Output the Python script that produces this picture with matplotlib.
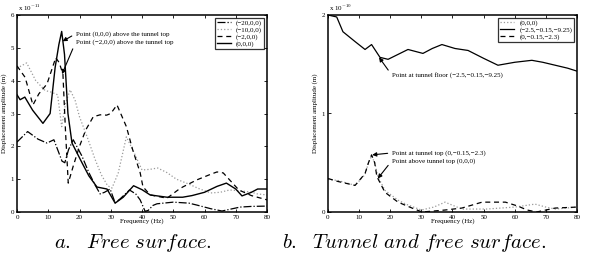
import numpy as np
import matplotlib
matplotlib.use("Agg")
import matplotlib.pyplot as plt

plt.rcParams['font.family'] = ['Liberation Serif', 'DejaVu Serif']
plt.rcParams['mathtext.fontset'] = 'cm'

# ---- a. free surface (amplitudes in units of 1e-11 m) ----
f_m20 = [0, 3.4, 6.7, 9.6, 11.8, 13, 14.4, 15.3, 16.5, 18, 20.8, 23, 25, 26.6, 28, 29.8, 31.4, 33,
         36, 38, 39.4, 41, 42, 43.5, 44.8, 50, 55, 57.6, 62, 65.6, 68, 71.4, 75, 80]
a_m20 = [2.13, 2.45, 2.22, 2.1, 2.2, 1.9, 1.55, 1.5, 1.9, 2.2, 1.7, 1.2, 0.82, 0.55, 0.6, 0.7, 0.28, 0.4,
         0.67, 0.55, 0.37, 0.02, 0.05, 0.2, 0.25, 0.3, 0.27, 0.21, 0.1, 0.03, 0.08, 0.15, 0.17, 0.18]

f_m10 = [0, 3.1, 6, 9, 11, 13, 14.3, 15.5, 17, 18.6, 20, 22.4, 25, 27, 29, 30.4, 32.4, 35, 37.5, 40,
         42.6, 45, 48, 51, 55, 58, 62, 65, 68, 71, 74.6, 77, 80]
a_m10 = [4.38, 4.54, 4.0, 3.7, 3.65, 3.57, 2.6, 3.3, 3.72, 3.4, 2.9, 2.3, 1.6, 1.13, 0.8, 0.73, 1.19, 2.29, 1.8, 1.28,
         1.3, 1.34, 1.2, 1.0, 0.85, 0.72, 0.58, 0.6, 0.67, 0.65, 0.61, 0.55, 0.52]

f_m2 = [0, 2.6, 5.1, 7, 9.6, 12.4, 13.5, 14.7, 15.5, 16.4, 18, 20, 22, 24.4, 26.6, 28.7, 30, 32, 35, 37,
        39.4, 40.3, 42.6, 48, 51.5, 53, 57.6, 62, 64, 66, 71, 75, 80]
a_m2 = [4.45, 4.1, 3.26, 3.6, 3.9, 4.7, 4.55, 4.2, 2.5, 0.88, 1.4, 2.0, 2.5, 2.9, 2.96, 2.95, 3.0, 3.26, 2.6, 1.9,
        1.2, 0.77, 0.52, 0.42, 0.67, 0.76, 0.98, 1.15, 1.22, 1.19, 0.67, 0.5, 0.37]

f_0 = [0, 1, 2.5, 5, 8.3, 10.6, 12.2, 13.4, 14.3, 15.2, 16.3, 17.6, 20.8, 23, 25.6, 28.8, 31.4, 34, 37.3, 40,
       42.6, 48, 53, 56, 60, 64, 67, 70, 72, 75, 77, 80]
a_0 = [3.57, 3.42, 3.5, 3.1, 2.7, 3.0, 4.4, 5.1, 5.5, 4.8, 3.0, 2.1, 1.5, 1.1, 0.76, 0.7, 0.27, 0.45, 0.8, 0.68,
       0.52, 0.45, 0.45, 0.5, 0.6, 0.78, 0.88, 0.7, 0.49, 0.6, 0.7, 0.7]

labels_a = ['(\u221220,0,0)', '(\u221210,0,0)', '(\u22122,0,0)', '(0,0,0)']

# ---- b. tunnel and free surface (amplitudes in units of 1e-10 m) ----
f_free = [0, 3.2, 8.7, 11.9, 13, 14, 15, 16, 18.3, 22.5, 25, 30, 34, 37.6, 43, 51, 60, 66.5, 70, 73, 80]
a_free = [0.33, 0.32, 0.27, 0.38, 0.5, 0.57, 0.5, 0.36, 0.22, 0.12, 0.08, 0.02, 0.05, 0.1, 0.03, 0.03, 0.05,
          0.08, 0.05, 0.03, 0.05]

f_floor = [0, 2.8, 4.8, 8.7, 11.9, 14, 16.7, 19.3, 22.5, 25.7, 30.5, 33.5, 36.6, 40.8, 45, 50, 54.6, 60,
           65.5, 69, 73, 77, 80]
a_floor = [2.0, 1.98, 1.83, 1.73, 1.65, 1.7, 1.57, 1.55, 1.6, 1.65, 1.61, 1.66, 1.7, 1.66, 1.64, 1.56, 1.49,
           1.52, 1.54, 1.52, 1.49, 1.46, 1.43]

f_top = [0, 3.2, 8.7, 11.9, 13, 14, 15, 15.7, 18.3, 22.5, 27, 30.2, 34, 37.6, 43, 49.5, 57, 61, 64, 67, 73, 80]
a_top = [0.34, 0.31, 0.27, 0.39, 0.5, 0.58, 0.5, 0.36, 0.2, 0.1, 0.04, 0.0, 0.01, 0.02, 0.04, 0.1, 0.1, 0.06,
         0.02, 0.0, 0.04, 0.05]

labels_b = ['(0,0,0)', '(\u22122.5,\u22120.15,\u22129.25)', '(0,\u22120.15,\u22122.3)']

fig = plt.figure(figsize=(6.16, 2.67), dpi=100)
ax1 = fig.add_axes([17/616, 55/267, 250/616, 197/267])
ax2 = fig.add_axes([328/616, 55/267, 249/616, 197/267])

fs = 5
gray = '#9a9a9a'

ax1.plot(f_m20, a_m20, color='k', ls='-.', lw=0.9, label=labels_a[0])
ax1.plot(f_m10, a_m10, color=gray, ls=':', lw=0.9, label=labels_a[1])
ax1.plot(f_m2, a_m2, color='k', ls='--', lw=0.9, dashes=(4, 3), label=labels_a[2])
ax1.plot(f_0, a_0, color='k', ls='-', lw=1.0, label=labels_a[3])
ax1.set_ylim(0, 6)
ax1.set_yticks(range(0, 7))

ax2.plot(f_free, a_free, color=gray, ls=':', lw=0.9, label=labels_b[0])
ax2.plot(f_floor, a_floor, color='k', ls='-', lw=0.9, label=labels_b[1])
ax2.plot(f_top, a_top, color='k', ls='--', lw=0.9, dashes=(4, 3), label=labels_b[2])
ax2.set_ylim(0, 2)
ax2.set_yticks([0, 1, 2])

for ax, exp in ((ax1, '-11'), (ax2, '-10')):
    ax.set_xlim(0, 80)
    ax.set_xticks(range(0, 81, 10))
    ax.tick_params(direction='in', length=2.2, width=0.6, labelsize=fs, pad=2,
                   top=True, right=True)
    for s in ax.spines.values():
        s.set_linewidth(1.1)
    ax.set_xlabel('Frequency (Hz)', fontsize=fs, labelpad=-1)
    ax.set_ylabel('Displacement amplitude (m)', fontsize=fs)
    ax.yaxis.set_label_coords(-0.04, 0.5)
    ax.text(0.005, 1.012, 'x 10$^{' + exp + '}$', transform=ax.transAxes, fontsize=fs,
            ha='left', va='bottom')
    leg = ax.legend(loc='upper right', fontsize=fs, frameon=True, fancybox=False,
                    edgecolor='k', handlelength=2.0, borderpad=0.3, labelspacing=0.1,
                    borderaxespad=0.4)
    leg.get_frame().set_linewidth(0.9)

arrow = dict(arrowstyle='-|>', color='k', lw=0.8, mutation_scale=6, relpos=(0, 0.5),
             shrinkA=1, shrinkB=0)
ax1.annotate('Point (0,0,0) above the tunnel top', xy=(14.6, 5.2), xytext=(18.8, 5.43),
             fontsize=fs, va='center', arrowprops=arrow)
ax1.annotate('Point (\u22122,0,0) above the tunnel top', xy=(14.4, 4.2), xytext=(18.8, 5.18),
             fontsize=fs, va='center', arrowprops=arrow)

ax2.annotate('Point at tunnel floor (\u22122.5,\u22120.15,\u22129.25)', xy=(16.4, 1.57), xytext=(20.5, 1.39),
             fontsize=fs, va='center', arrowprops=arrow)
ax2.annotate('Point at tunnel top (0,\u22120.15,\u22122.3)', xy=(14.2, 0.58), xytext=(20.5, 0.6),
             fontsize=fs, va='center', arrowprops=arrow)
ax2.annotate('Point above tunnel top (0,0,0)', xy=(16, 0.34), xytext=(20.5, 0.52),
             fontsize=fs, va='center', arrowprops=arrow)

fig.text(133/616, 0.09, r'$\mathit{a.\ \ Free\ surface.}$', fontsize=15, ha='center', va='center')
fig.text(414/616, 0.09, r'$\mathit{b.\ \ Tunnel\ and\ free\ surface.}$', fontsize=15, ha='center',
         va='center')

fig.savefig('out.png', dpi=100)
